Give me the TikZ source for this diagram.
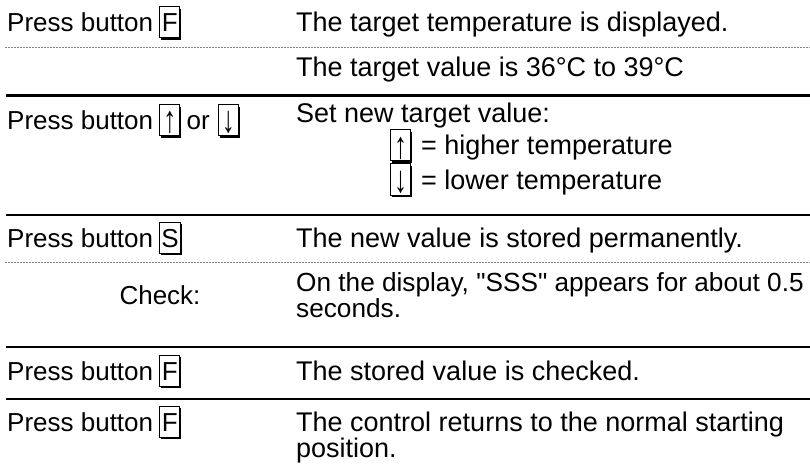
\documentclass[tikz,border=0pt]{standalone}
\usepackage{fontspec}
\setmainfont{Liberation Sans}[Ligatures=TeXOff]
\usetikzlibrary{shadows}
\newcommand{\uparr}{\raisebox{-3pt}{\scalebox{1}[1.45]{↑}}}
\newcommand{\downarr}{\raisebox{-3pt}{\scalebox{1}[1.45]{↓}}}
\tikzset{
  lefttxt/.style={anchor=base west, inner sep=0pt, font=\fontsize{26}{30}\selectfont},
  righttxt/.style={anchor=base west, inner sep=0pt, font=\fontsize{27}{32}\selectfont},
  keybox/.style={anchor=base west, draw, fill=white, line width=1pt,
    inner xsep=1.5pt, inner ysep=1pt, minimum width=20pt,
    text height=24pt, text depth=5pt, font=\fontsize{26}{30}\selectfont,
    drop shadow={opacity=1, fill=black, shadow xshift=1.6pt, shadow yshift=-1.6pt}},
  solidrule/.style={line width=2.4pt},
  dashrule/.style={gray, line width=0.8pt, dash pattern=on 2pt off 1pt}
}
\begin{document}
\begin{tikzpicture}[x=1pt,y=-1pt]
\useasboundingbox (0,0) rectangle (810,473);
% row 1
\node[lefttxt] (p1) at (7,32) {Press button};
\node[keybox] (k1) at ([xshift=6]p1.base east) {F};
\node[righttxt] (t1) at (296,32) {The target temperature is displayed.};
\draw[dashrule] (5,47.5) -- (810,47.5);
\node[righttxt] (t2) at (296,77) {The target value is 36°C to 39°C};
\draw[solidrule] (6,95.5) -- (810,95.5);
% row 3
\node[lefttxt] (p3) at (7,130) {Press button};
\node[keybox] (k3a) at ([xshift=6]p3.base east) {\uparr};
\node[lefttxt] (or3) at ([xshift=6]k3a.base east) {or};
\node[keybox] (k3b) at ([xshift=8]or3.base east) {\downarr};
\node[righttxt] (t3) at (296,123) {Set new target value:};
\node[keybox] (k3c) at (390,155) {\uparr};
\node[righttxt] (t3b) at ([xshift=10]k3c.base east) {= higher temperature};
\node[keybox] (k3d) at (390,189) {\downarr};
\node[righttxt] (t3c) at ([xshift=10]k3d.base east) {= lower temperature};
\draw[solidrule] (6,215) -- (810,215);
% row 4
\node[lefttxt] (p4) at (7,247) {Press button};
\node[keybox] (k4) at ([xshift=6]p4.base east) {S};
\node[righttxt] (t4) at (296,247) {The new value is stored permanently.};
\draw[dashrule] (5,262) -- (810,262);
\node[lefttxt, anchor=base] (c5) at (160,304) {Check:};
\node[righttxt, font=\fontsize{26.2}{30}\selectfont] (t5a) at (296,291) {On the display, "SSS" appears for about 0.5};
\node[righttxt, font=\fontsize{26.2}{30}\selectfont] (t5b) at (296,317) {seconds.};
\draw[solidrule] (6,347) -- (810,347);
% row 6
\node[lefttxt] (p6) at (7,380) {Press button};
\node[keybox] (k6) at ([xshift=6]p6.base east) {F};
\node[righttxt] (t6) at (296,380) {The stored value is checked.};
\draw[solidrule] (6,399) -- (810,399);
% row 7
\node[lefttxt] (p7) at (7,431) {Press button};
\node[keybox] (k7) at ([xshift=6]p7.base east) {F};
\node[righttxt] (t7a) at (296,431) {The control returns to the normal starting};
\node[righttxt] (t7b) at (296,457) {position.};
\end{tikzpicture}
\end{document}
